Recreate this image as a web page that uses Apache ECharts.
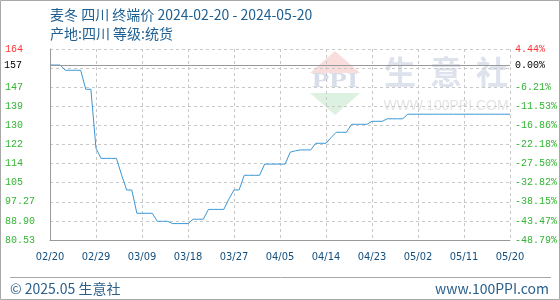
<!DOCTYPE html>
<html>
<head>
<meta charset="utf-8">
<script src="https://cdn.jsdelivr.net/npm/echarts@6/dist/echarts.min.js"></script>
<style>
html,body{margin:0;padding:0;background:#fff;}
#c{width:560px;height:300px;}
</style>
</head>
<body>
<div id="c"></div>
<script>
// ---- data ----
var dates = [
'02/20','02/21','02/22','02/23','02/24','02/25','02/26','02/27','02/28','02/29',
'03/01','03/02','03/03','03/04','03/05','03/06','03/07','03/08','03/09','03/10',
'03/11','03/12','03/13','03/14','03/15','03/16','03/17','03/18','03/19','03/20',
'03/21','03/22','03/23','03/24','03/25','03/26','03/27','03/28','03/29','03/30',
'03/31','04/01','04/02','04/03','04/04','04/05','04/06','04/07','04/08','04/09',
'04/10','04/11','04/12','04/13','04/14','04/15','04/16','04/17','04/18','04/19',
'04/20','04/21','04/22','04/23','04/24','04/25','04/26','04/27','04/28','04/29',
'04/30','05/01','05/02','05/03','05/04','05/05','05/06','05/07','05/08','05/09',
'05/10','05/11','05/12','05/13','05/14','05/15','05/16','05/17','05/18','05/19',
'05/20'
];
var prices = [
157,157,157,154.7,154.7,154.7,154.7,146.4,146.4,120.6,
116.2,116.2,116.2,116.2,109.0,102.4,102.4,92.2,92.2,92.2,
92.2,88.7,88.7,88.7,87.7,87.7,87.7,87.7,89.6,89.6,
89.6,93.9,93.9,93.9,93.9,98.4,102.4,102.4,108.8,108.8,
108.8,108.8,113.7,113.7,113.7,113.7,113.7,118.9,119.5,119.9,
119.9,119.9,122.8,122.8,122.8,125.3,127.6,127.6,127.6,131.1,
131.1,131.1,131.1,132.4,132.4,132.4,133.5,133.5,133.5,133.5,
135.5,135.5,135.5,135.5,135.5,135.5,135.5,135.5,135.5,135.5,
135.5,135.5,135.5,135.5,135.5,135.5,135.5,135.5,135.5,135.5,
135.5
];
var baseValue = 157;
var baseLabelRight = '0.00%';
var axisMin = 80.53;
var axisMax = 164;
var leftTicks = ['80.53','88.90','97.27','105','114','122','130','139','147','','164'];
var rightTicks = ['-48.79%','-43.47%','-38.15%','-32.82%','-27.50%','-22.18%','-16.86%','-11.53%','-6.21%','','4.44%'];
var titleText = '麦冬 四川 终端价 2024-02-20 - 2024-05-20';
var subText = '产地:四川 等级:统货';
var footLeft = '© 2025.05 生意社';
var footRight = 'www.100PPI.com';

// ---- chart ----
var chart = echarts.init(document.getElementById('c'), null, {renderer:'canvas'});
var cjk = '"Noto Sans CJK SC", "Noto Sans", sans-serif';
var mono = '"Liberation Mono", "DejaVu Sans Mono", monospace';
var green = '#33b533', red = '#ff3333';
function tickColor(i){ return i === 10 ? red : green; }

var option = {
  animation: false,
  backgroundColor: '#fff',
  title: [
    {text: titleText, left: 50, top: 6, padding: 0,
     textStyle: {fontFamily: cjk, fontSize: 14, fontWeight: 'normal', color: '#1e5f91', lineHeight: 17}},
    {text: subText, left: 50, top: 25, padding: 0,
     textStyle: {fontFamily: cjk, fontSize: 14, fontWeight: 'normal', color: '#1e5f91', lineHeight: 17}},
    {text: footLeft, left: 10, top: 280, padding: 0,
     textStyle: {fontFamily: cjk, fontSize: 14, fontWeight: 'normal', color: '#2a5f8c', lineHeight: 17}},
    {text: footRight, right: 11, top: 280, padding: 0,
     textStyle: {fontFamily: cjk, fontSize: 14, fontWeight: 'normal', color: '#2a5f8c', lineHeight: 17}}
  ],
  grid: {left: 50, right: 50, top: 49, bottom: 60, containLabel: false},
  xAxis: {
    type: 'category', data: dates, boundaryGap: false,
    axisLine: {show: true, lineStyle: {color: '#999', width: 1}},
    axisTick: {show: false},
    axisLabel: {interval: 8, margin: 12, fontFamily: '"DejaVu Sans Condensed", "Liberation Sans", sans-serif', fontSize: 11, color: '#134f7e'},
    splitLine: {show: true, interval: 8, lineStyle: {color: '#c8c8c8', type: [3, 3], width: 1}}
  },
  yAxis: [
    {type: 'value', min: axisMin, max: axisMax, show: false, splitLine: {show: false}},
    {type: 'value', min: 0, max: 10, interval: 1, position: 'left',
     axisLine: {show: true, lineStyle: {color: '#999', width: 1}},
     axisTick: {show: false},
     splitLine: {show: true, lineStyle: {color: '#c8c8c8', type: [3, 3], width: 1}},
     axisLabel: {align: 'left', margin: 45, fontFamily: mono, fontSize: 10,
       formatter: function(v, i){ return leftTicks[Math.round(v)]; },
       color: function(v, i){ return tickColor(Math.round(Number(v))); }}},
    {type: 'value', min: 0, max: 10, interval: 1, position: 'right',
     axisLine: {show: false}, axisTick: {show: false}, splitLine: {show: false},
     axisLabel: {align: 'left', margin: 5, fontFamily: mono, fontSize: 10,
       formatter: function(v, i){ return rightTicks[Math.round(v)]; },
       color: function(v, i){ return tickColor(Math.round(Number(v))); }}}
  ],
  graphic: [
    {type: 'rect', silent: true, z: 100, shape: {x: 0.5, y: 0.5, width: 559, height: 299},
     style: {fill: 'none', stroke: '#a8a8a8', lineWidth: 1}},
    {type: 'line', silent: true, shape: {x1: 10, y1: 277.5, x2: 551, y2: 277.5},
     style: {stroke: '#a8a8a8', lineWidth: 1}},
    // watermark
    {type: 'polygon', silent: true, z: 0, shape: {points: [[335, 51], [310, 73], [360, 73]]},
     style: {fill: '#f9dcdc'}},
    {type: 'text', silent: true, z: 0, x: 335, y: 82, scaleX: 1.45,
     style: {text: 'PPI', font: 'bold 20px "Liberation Serif", serif', fill: '#d7deea', align: 'center', verticalAlign: 'middle'}},
    {type: 'polygon', silent: true, z: 0, shape: {points: [[310, 93], [360, 93], [335, 115]]},
     style: {fill: '#dcf1df'}},
    {type: 'text', silent: true, z: 0, x: 400, y: 72,
     style: {text: '生', font: 'bold 32px "Noto Sans CJK SC"', fill: '#dde2ec', align: 'center', verticalAlign: 'middle'}},
    {type: 'text', silent: true, z: 0, x: 446, y: 72,
     style: {text: '意', font: 'bold 32px "Noto Sans CJK SC"', fill: '#dde2ec', align: 'center', verticalAlign: 'middle'}},
    {type: 'text', silent: true, z: 0, x: 492, y: 72,
     style: {text: '社', font: 'bold 32px "Noto Sans CJK SC"', fill: '#dde2ec', align: 'center', verticalAlign: 'middle'}},
    {type: 'text', silent: true, z: 0, x: 446, y: 106,
     style: {text: 'WWW.100PPI.COM', font: '14px "Liberation Sans", sans-serif', fill: '#e4e4e4', align: 'center', verticalAlign: 'middle'}}
  ],
  series: [{
    type: 'line', data: prices, yAxisIndex: 0, symbol: 'none', showSymbol: false,
    lineStyle: {color: '#3a97d6', width: 1},
    markLine: {
      silent: true, symbol: ['none', 'none'], animation: false,
      lineStyle: {color: '#999', type: 'solid', width: 1},
      data: [
        {yAxis: baseValue, label: {show: true, position: 'start', distance: 28, formatter: String(baseValue),
          fontFamily: mono, fontSize: 10, color: '#000'}},
        {yAxis: baseValue, label: {show: true, position: 'end', distance: 5, formatter: baseLabelRight,
          fontFamily: mono, fontSize: 10, color: '#000'}}
      ]
    }
  }]
};
chart.setOption(option);
</script>
</body>
</html>
